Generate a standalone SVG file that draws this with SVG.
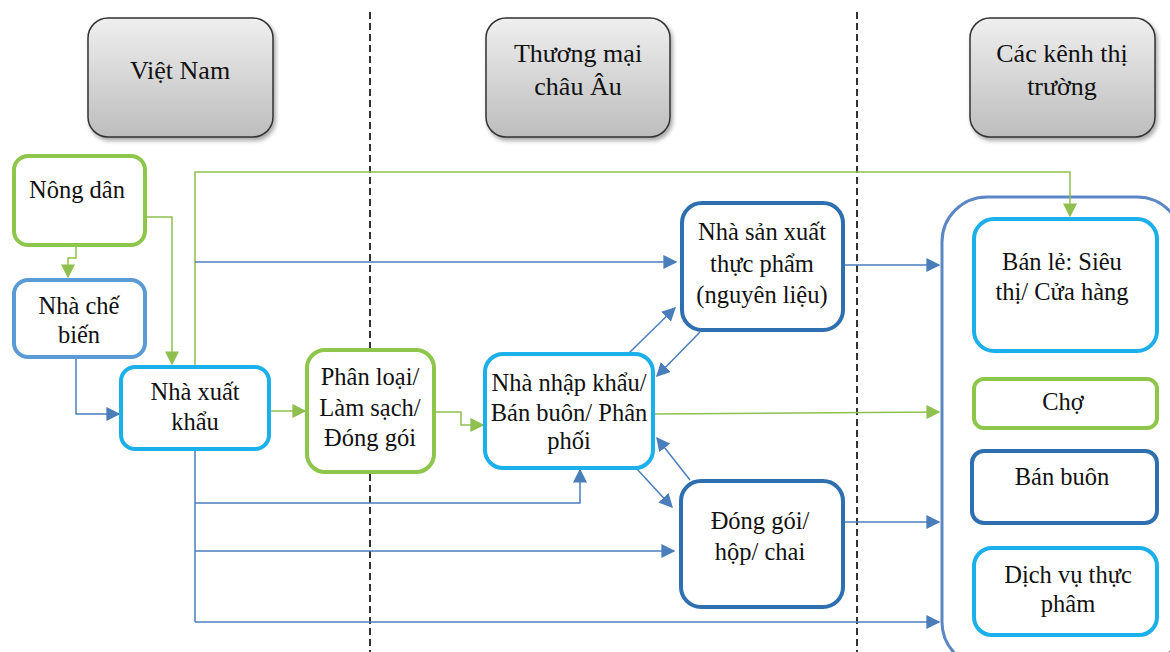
<svg xmlns="http://www.w3.org/2000/svg" width="1170" height="652" viewBox="0 0 1170 652">
<defs>
<linearGradient id="hg" x1="0" y1="0" x2="0" y2="1">
<stop offset="0" stop-color="#efefef"/>
<stop offset="1" stop-color="#bdbdbd"/>
</linearGradient>
<filter id="sh" x="-10%" y="-10%" width="125%" height="125%">
<feDropShadow dx="2" dy="3" stdDeviation="2" flood-color="#000" flood-opacity="0.35"/>
</filter>
<marker id="ab" viewBox="0 0 10 10" refX="9" refY="5" markerWidth="14" markerHeight="14" markerUnits="userSpaceOnUse" orient="auto">
<path d="M0,0 L10,5 L0,10 Z" fill="#4a7ebb"/>
</marker>
<marker id="ag" viewBox="0 0 10 10" refX="9" refY="5" markerWidth="14" markerHeight="14" markerUnits="userSpaceOnUse" orient="auto">
<path d="M0,0 L10,5 L0,10 Z" fill="#8fbf4f"/>
</marker>
</defs>
<style>
text{font-family:'Liberation Serif','Times New Roman','DejaVu Serif',serif;font-size:24.5px;fill:#111;text-anchor:middle}
.ht{font-size:26px}
.hdr{fill:url(#hg);stroke:#333;stroke-width:1.5;filter:url(#sh)}
.n{fill:#fff;stroke-width:4}
.g{stroke:#8dc64a}
.c{stroke:#1cb0ea}
.m{stroke:#5b9bd5}
.d{stroke:#2e6fb0}
.cb{fill:none;stroke:#4a7ebb;stroke-width:1.5;marker-end:url(#ab)}
.cg{fill:none;stroke:#8fbf4f;stroke-width:1.5;marker-end:url(#ag)}
.ln{fill:none;stroke:#4a7ebb;stroke-width:1.5}
.dash{stroke:#333;stroke-width:2;stroke-dasharray:7,4}
</style>
<rect width="1170" height="652" fill="#fff"/>
<line class="dash" x1="370" y1="12" x2="370" y2="652"/>
<line class="dash" x1="857" y1="12" x2="857" y2="652"/>
<g font-family="Liberation Serif, serif">
<g id="h-vn"><rect class="hdr" x="88" y="18" width="185" height="119" rx="20"/><text class="ht" x="180" y="79">Việt Nam</text></g>
<g id="h-eu"><rect class="hdr" x="486" y="18" width="184" height="119" rx="20"/><text class="ht" x="578" y="62">Thương mại</text><text class="ht" x="578" y="95">châu Âu</text></g>
<g id="h-mk"><rect class="hdr" x="970" y="18" width="185" height="119" rx="20"/><text class="ht" x="1062" y="62">Các kênh thị</text><text class="ht" x="1062" y="95">trường</text></g>

<g id="n-kenh"><rect x="942" y="197" width="240" height="470" rx="45" fill="#fff" stroke="#5b87c5" stroke-width="3"/></g>

<g id="connectors">
<path class="cg" d="M76,246 V258 H68 V277"/>
<path class="cg" d="M145,217 H172 V364"/>
<path class="cb" d="M76,357 V414 H119"/>
<path class="cg" d="M269,411 H305"/>
<path class="cg" d="M434,412 H461 V425 H483"/>
<path class="cg" d="M195,366 V172 H1070 V216"/>
<path class="cb" d="M195,262 H676"/>
<path class="cb" d="M629,353 L675,308"/>
<path class="cb" d="M700,332 L657,376"/>
<path class="cb" d="M636,468 L672,507"/>
<path class="cb" d="M690,480 L657,438"/>
<path class="cg" d="M653,414 L939,412"/>
<path class="cb" d="M843,265 H939"/>
<path class="cb" d="M843,522 H939"/>
<path class="ln" d="M195,449 V622"/>
<path class="cb" d="M195,503 H580 V470"/>
<path class="cb" d="M195,551 H674"/>
<path class="cb" d="M195,622 H939"/>
</g>

<g id="n-nongdan"><rect class="n g" x="14" y="156" width="131" height="89" rx="14"/><text x="77" y="198">Nông dân</text></g>
<g id="n-chebien"><rect class="n m" x="14" y="280" width="131" height="77" rx="14"/><text x="79" y="314">Nhà chế</text><text x="79" y="343">biến</text></g>
<g id="n-xuatkhau"><rect class="n c" x="121" y="367" width="148" height="82" rx="14"/><text x="195" y="400">Nhà xuất</text><text x="195" y="430">khẩu</text></g>
<g id="n-phanloai"><rect class="n g" x="307" y="350" width="127" height="122" rx="18"/><text x="370" y="385">Phân loại/</text><text x="370" y="416">Làm sạch/</text><text x="370" y="446">Đóng gói</text></g>
<g id="n-nhapkhau"><rect class="n c" x="485" y="354" width="168" height="114" rx="18"/><text x="569" y="391">Nhà nhập khẩu/</text><text x="569" y="421">Bán buôn/ Phân</text><text x="569" y="449">phối</text></g>
<g id="n-sanxuat"><rect class="n d" x="682" y="203" width="161" height="127" rx="20"/><text x="762" y="240">Nhà sản xuất</text><text x="762" y="272">thực phẩm</text><text x="762" y="303">(nguyên liệu)</text></g>
<g id="n-donggoi"><rect class="n d" x="681" y="481" width="162" height="126" rx="20"/><text x="760" y="529">Đóng gói/</text><text x="760" y="560">hộp/ chai</text></g>
<g id="n-banle"><rect class="n c" x="974" y="219" width="183" height="132" rx="20"/><text x="1062" y="270">Bán lẻ: Siêu</text><text x="1062" y="300">thị/ Cửa hàng</text></g>
<g id="n-cho"><rect class="n g" x="974" y="379" width="183" height="49" rx="10"/><text x="1063" y="410">Chợ</text></g>
<g id="n-banbuon"><rect class="n d" x="972" y="451" width="185" height="72" rx="12"/><text x="1062" y="485">Bán buôn</text></g>
<g id="n-dichvu"><rect class="n c" x="974" y="548" width="183" height="87" rx="18"/><text x="1068" y="583">Dịch vụ thực</text><text x="1068" y="612">phâm</text></g>
</g>
</svg>
